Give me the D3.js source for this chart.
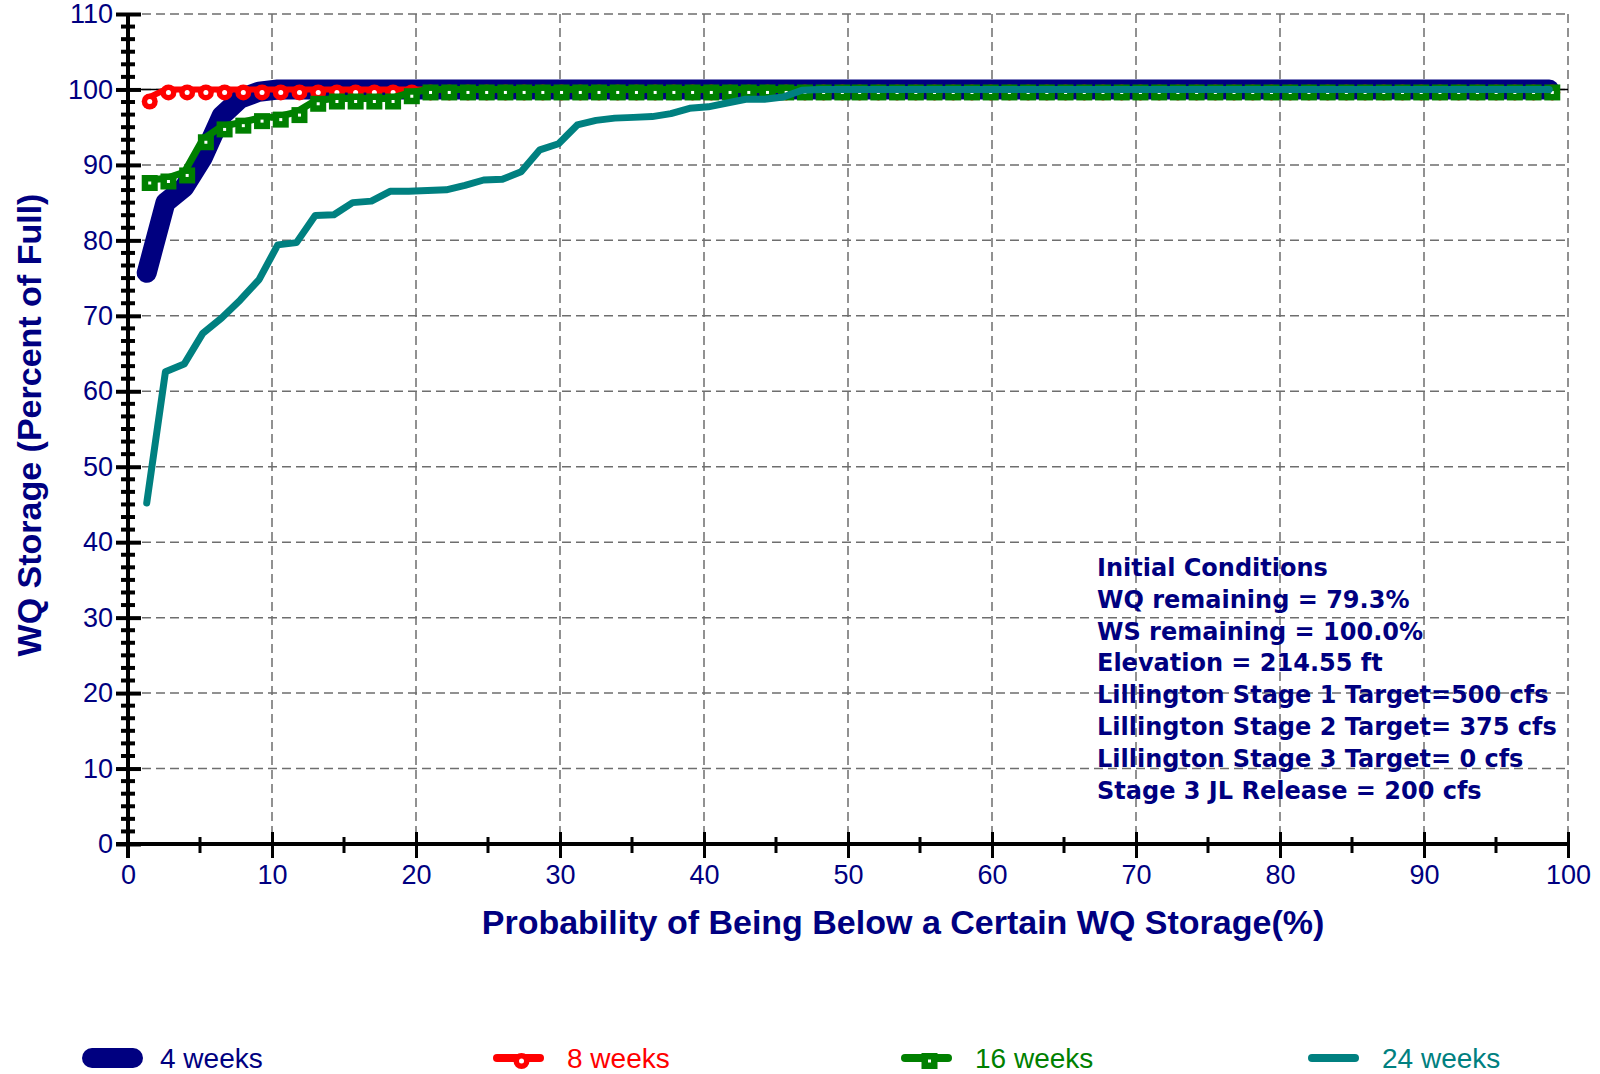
<!DOCTYPE html>
<html>
<head>
<meta charset="utf-8">
<script src="https://cdn.jsdelivr.net/npm/d3@7"></script>
<style>
  body { margin: 0; background: #fff; }
  svg { display: block; }
</style>
</head>
<body>
<div id="chart"></div>
<script>
// Probability of being below (%) for each ranked simulation
const probability = [
  1.3, 2.6, 3.9, 5.2, 6.5, 7.8, 9.1, 10.4, 11.7, 13.0,
  14.3, 15.6, 16.9, 18.2, 19.5, 20.8, 22.1, 23.4, 24.7, 26.0,
  27.3, 28.6, 29.9, 31.2, 32.5, 33.8, 35.1, 36.4, 37.7, 39.0,
  40.3, 41.6, 42.9, 44.2, 45.5, 46.8, 48.1, 49.4, 50.6, 51.9,
  53.2, 54.5, 55.8, 57.1, 58.4, 59.7, 61.0, 62.3, 63.6, 64.9,
  66.2, 67.5, 68.8, 70.1, 71.4, 72.7, 74.0, 75.3, 76.6, 77.9,
  79.2, 80.5, 81.8, 83.1, 84.4, 85.7, 87.0, 88.3, 89.6, 90.9,
  92.2, 93.5, 94.8, 96.1, 97.4, 98.7
];

// WQ storage (percent of full)
const weeks4 = [
  75.7, 85.0, 87.0, 91.0, 96.5, 98.8, 99.7, 100, 100, 100,
  100, 100, 100, 100, 100, 100, 100, 100, 100, 100,
  100, 100, 100, 100, 100, 100, 100, 100, 100, 100,
  100, 100, 100, 100, 100, 100, 100, 100, 100, 100,
  100, 100, 100, 100, 100, 100, 100, 100, 100, 100,
  100, 100, 100, 100, 100, 100, 100, 100, 100, 100,
  100, 100, 100, 100, 100, 100, 100, 100, 100, 100,
  100, 100, 100, 100, 100, 100
];
const weeks8 = [
  98.8, 100, 100, 100, 100, 100, 100, 100, 100, 100,
  100, 100, 100, 100, 100, 100, 100, 100, 100, 100,
  100, 100, 100, 100, 100, 100, 100, 100, 100, 100,
  100, 100, 100, 100, 100, 100, 100, 100, 100, 100,
  100, 100, 100, 100, 100, 100, 100, 100, 100, 100,
  100, 100, 100, 100, 100, 100, 100, 100, 100, 100,
  100, 100, 100, 100, 100, 100, 100, 100, 100, 100,
  100, 100, 100, 100, 100, 100
];
const weeks16 = [
  88.0, 88.2, 89.0, 93.4, 95.1, 95.6, 96.2, 96.4, 97.0, 98.5,
  98.8, 98.8, 98.8, 98.8, 99.5, 100, 100, 100, 100, 100,
  100, 100, 100, 100, 100, 100, 100, 100, 100, 100,
  100, 100, 100, 100, 100, 100, 100, 100, 100, 100,
  100, 100, 100, 100, 100, 100, 100, 100, 100, 100,
  100, 100, 100, 100, 100, 100, 100, 100, 100, 100,
  100, 100, 100, 100, 100, 100, 100, 100, 100, 100,
  100, 100, 100, 100, 100, 100
];
const weeks24 = [
  45.2, 62.6, 63.6, 67.7, 69.7, 72.1, 74.8, 79.4, 79.7, 83.3,
  83.4, 85.0, 85.2, 86.5, 86.5, 86.6, 86.7, 87.3, 88.0, 88.1,
  89.1, 92.0, 92.8, 95.3, 95.9, 96.2, 96.3, 96.4, 96.8, 97.5,
  97.7, 98.2, 98.7, 98.7, 99.0, 99.9, 100, 100, 100, 100,
  100, 100, 100, 100, 100, 100, 100, 100, 100, 100,
  100, 100, 100, 100, 100, 100, 100, 100, 100, 100,
  100, 100, 100, 100, 100, 100, 100, 100, 100, 100,
  100, 100, 100, 100, 100, 100
];

const seriesNames = ['4 weeks', '8 weeks', '16 weeks', '24 weeks'];
const xTicks = [0, 10, 20, 30, 40, 50, 60, 70, 80, 90, 100];
const xMinorTicks = [5, 15, 25, 35, 45, 55, 65, 75, 85, 95];
const yTicks = [0, 10, 20, 30, 40, 50, 60, 70, 80, 90, 100, 110];

const conditions = [
  'Initial Conditions',
  'WQ remaining = 79.3%',
  'WS remaining = 100.0%',
  'Elevation = 214.55 ft',
  'Lillington Stage 1 Target=500 cfs',
  'Lillington Stage 2 Target= 375 cfs',
  'Lillington Stage 3 Target= 0 cfs',
  'Stage 3 JL Release = 200 cfs'
];

// Layout
const WIDTH = 1600;
const HEIGHT = 1074;
const PLOT = { left: 128, right: 1568, top: 14, bottom: 844 };
const NAVY = '#000080';

const x = d3.scaleLinear().domain([0, 100]).range([PLOT.left, PLOT.right]);
const y = d3.scaleLinear().domain([0, 110]).range([PLOT.bottom, PLOT.top]);

const svg = d3.select('#chart')
  .append('svg')
  .attr('width', WIDTH)
  .attr('height', HEIGHT)
  .style('font-family', '"Liberation Sans", Arial, sans-serif');

// Grid
const grid = svg.append('g')
  .attr('stroke', '#6e6e6e')
  .attr('stroke-width', 1.5)
  .attr('stroke-dasharray', '9,5');

grid.selectAll('line.v')
  .data(xTicks.filter(d => d > 0))
  .enter()
  .append('line')
  .attr('x1', d => x(d))
  .attr('x2', d => x(d))
  .attr('y1', y(110))
  .attr('y2', y(0));

grid.selectAll('line.h')
  .data(yTicks.filter(d => d > 0))
  .enter()
  .append('line')
  .attr('x1', x(0))
  .attr('x2', x(100))
  .attr('y1', d => y(d))
  .attr('y2', d => y(d));

// thin reference line at full storage
svg.append('line')
  .attr('x1', x(0))
  .attr('x2', x(100))
  .attr('y1', y(100))
  .attr('y2', y(100))
  .attr('stroke', '#000')
  .attr('stroke-width', 1.5);

// Series
const series = [
  { name: seriesNames[0], values: weeks4, color: NAVY, width: 20 },
  { name: seriesNames[1], values: weeks8, color: '#ff0000', width: 6, marker: 'circle' },
  { name: seriesNames[2], values: weeks16, color: '#008000', width: 7, marker: 'square' },
  { name: seriesNames[3], values: weeks24, color: '#008080', width: 7 }
];

const line = d3.line()
  .x((d, i) => x(probability[i]))
  .y(d => y(d));

// markers sit a few pixels right/down of the line, as in the original
const MOFF = 3;
const CR = 8;   // circle radius
const SQ = 16;  // square side

function drawMarker(g, type, color) {
  if (type === 'circle') {
    g.append('circle').attr('r', CR).attr('fill', color);
    g.append('circle').attr('r', 2.5).attr('fill', '#fff');
  } else if (type === 'square') {
    g.append('rect').attr('x', -SQ / 2).attr('y', -SQ / 2).attr('width', SQ).attr('height', SQ).attr('fill', color);
    g.append('rect').attr('x', -1.5).attr('y', -1.5).attr('width', 3).attr('height', 3).attr('fill', '#fff');
  }
}

series.forEach(s => {
  const g = svg.append('g');
  g.append('path')
    .datum(s.values)
    .attr('d', line)
    .attr('fill', 'none')
    .attr('stroke', s.color)
    .attr('stroke-width', s.width)
    .attr('stroke-linejoin', 'round')
    .attr('stroke-linecap', 'round');

  if (s.marker) {
    g.selectAll('g.m')
      .data(s.values)
      .enter()
      .append('g')
      .attr('transform', (d, i) => `translate(${x(probability[i]) + MOFF},${y(d) + MOFF})`)
      .each(function () { drawMarker(d3.select(this), s.marker, s.color); });
  }
});

// Axes
const xAxis = svg.append('g')
  .attr('transform', `translate(0,${PLOT.bottom})`)
  .call(d3.axisBottom(x).tickValues(xTicks).tickSize(14).tickPadding(10).tickSizeOuter(0));
xAxis.select('.domain').remove();
xAxis.selectAll('.tick line').attr('y1', -12).attr('stroke', '#000').attr('stroke-width', 3);
xAxis.selectAll('.tick text')
  .attr('fill', NAVY)
  .attr('font-size', 27)
  .attr('font-family', '"Liberation Sans", Arial, sans-serif')
  .attr('y', 40)
  .attr('dy', 0);

svg.append('g')
  .selectAll('line')
  .data(xMinorTicks)
  .enter()
  .append('line')
  .attr('x1', d => x(d))
  .attr('x2', d => x(d))
  .attr('y1', PLOT.bottom - 7)
  .attr('y2', PLOT.bottom + 9)
  .attr('stroke', '#000')
  .attr('stroke-width', 3);

svg.append('line')
  .attr('x1', PLOT.left - 12)
  .attr('x2', x(100))
  .attr('y1', PLOT.bottom)
  .attr('y2', PLOT.bottom)
  .attr('stroke', '#000')
  .attr('stroke-width', 4);

const yAxis = svg.append('g')
  .attr('transform', `translate(${PLOT.left},0)`)
  .call(d3.axisLeft(y).tickValues(yTicks).tickSize(12).tickPadding(4).tickSizeOuter(0));
yAxis.select('.domain').remove();
yAxis.selectAll('.tick line').attr('x2', 13).attr('x1', -12).attr('stroke', '#000').attr('stroke-width', 4);
yAxis.selectAll('.tick text')
  .attr('fill', NAVY)
  .attr('font-size', 27)
  .attr('font-family', '"Liberation Sans", Arial, sans-serif')
  .attr('x', -15);

// minor y ticks, six per major step
svg.append('g')
  .selectAll('line')
  .data(d3.range(0, 67).filter(i => i % 6 !== 0).map(i => i * 10 / 6))
  .enter()
  .append('line')
  .attr('x1', PLOT.left - 7)
  .attr('x2', PLOT.left + 7)
  .attr('y1', d => y(d))
  .attr('y2', d => y(d))
  .attr('stroke', '#000')
  .attr('stroke-width', 4);

svg.append('line')
  .attr('x1', PLOT.left)
  .attr('x2', PLOT.left)
  .attr('y1', y(110))
  .attr('y2', PLOT.bottom + 14)
  .attr('stroke', '#000')
  .attr('stroke-width', 4);

// Axis titles
svg.append('text')
  .attr('x', 903)
  .attr('y', 934)
  .attr('text-anchor', 'middle')
  .attr('fill', NAVY)
  .attr('font-size', 34)
  .attr('font-weight', 'bold')
  .text('Probability of Being Below a Certain WQ Storage(%)');

svg.append('text')
  .attr('transform', 'translate(41,425) rotate(-90)')
  .attr('text-anchor', 'middle')
  .attr('fill', NAVY)
  .attr('font-size', 34)
  .attr('font-weight', 'bold')
  .text('WQ Storage (Percent of Full)');

// Initial conditions box
svg.append('g')
  .selectAll('text')
  .data(conditions)
  .enter()
  .append('text')
  .attr('x', 1097)
  .attr('y', (d, i) => 576 + i * 31.8)
  .attr('fill', NAVY)
  .attr('font-family', '"DejaVu Sans", Verdana, sans-serif')
  .attr('font-weight', 'bold')
  .attr('font-size', 24)
  .text(d => d);

// Legend
const legendX = [82, 493, 901, 1308];
const legendY = 1058;
const legend = svg.append('g');
series.forEach((s, i) => {
  const g = legend.append('g').attr('transform', `translate(${legendX[i]},${legendY})`);
  const w = i === 0 ? 61 : 51;
  const sw = i === 0 ? 20 : 8;
  g.append('line')
    .attr('x1', sw / 2)
    .attr('x2', w - sw / 2)
    .attr('stroke', s.color)
    .attr('stroke-width', sw)
    .attr('stroke-linecap', 'round');
  if (s.marker) {
    drawMarker(g.append('g').attr('transform', `translate(${w / 2 + MOFF},${MOFF})`), s.marker, s.color);
  }
  g.append('text')
    .attr('x', i === 0 ? 78 : 74)
    .attr('y', 10)
    .attr('fill', s.color)
    .attr('font-size', 28)
    .text(s.name);
});
</script>
</body>
</html>
